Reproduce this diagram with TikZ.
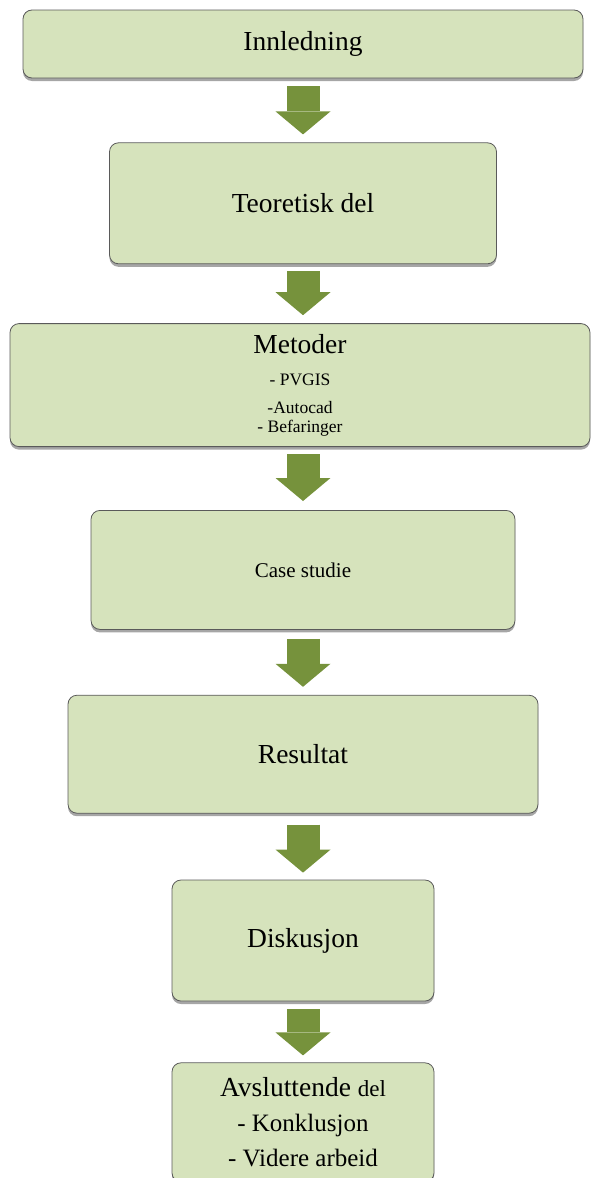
\documentclass[tikz,border=0pt]{standalone}
\usepackage{fontspec}
\setmainfont{Liberation Serif}
\usetikzlibrary{arrows.meta, positioning, shadows}

\definecolor{boksgronn}{HTML}{D6E3BC}
\definecolor{pilgronn}{HTML}{76923C}
\definecolor{kant}{HTML}{5A5A5A}

\begin{document}
\begin{tikzpicture}[
  node distance=62pt,
  every node/.style={font=\fontsize{27.5}{33}\selectfont},
  kapittel/.style={
    rectangle, draw=kant, line width=0.8pt, fill=boksgronn,
    rounded corners=9pt, align=center, inner sep=0pt,
    drop shadow={shadow xshift=0pt, shadow yshift=-3pt, opacity=0.35, fill=black}
  },
  pil/.style={
    draw=pilgronn, line width=33pt,
    -{Triangle[length=23pt, width=55pt, line width=0pt]}
  },
  liten/.style={font=\fontsize{17.5}{20}\selectfont}
]

\useasboundingbox (0,0) rectangle (590pt,-1178pt);

\node[kapittel, minimum width=560pt, minimum height=68pt] (inn) at (303pt,-44pt) {Innledning};
\node[kapittel, minimum width=387pt, minimum height=121pt] (teo) [below=64pt of inn] {Teoretisk del};
\node[kapittel, minimum width=580pt, minimum height=123pt, liten] (met) [below=59pt of teo, xshift=-3pt]
  {{\fontsize{27.5}{33}\selectfont Metoder}\\[12pt] - PVGIS\\[8pt] -Autocad\\[-1pt] - Befaringer};
\node[kapittel, minimum width=424pt, minimum height=119pt] (cas) [below=63pt of met.south -| teo.south]
  {\fontsize{21}{25}\selectfont Case studie};
\node[kapittel, minimum width=470pt, minimum height=118pt] (res) [below=65pt of cas] {Resultat};
\node[kapittel, minimum width=262pt, minimum height=121pt] (dis) [below=66pt of res] {Diskusjon};
\node[kapittel, minimum width=262pt, minimum height=119pt] (avs) [below=61pt of dis]
  {Avsluttende {\fontsize{23}{25}\selectfont del}\\[2pt]
   {\fontsize{25}{30}\selectfont - Konklusjon}\\[2pt]
   {\fontsize{25}{30}\selectfont - Videre arbeid}};

\draw[pil] ([yshift=-8pt]inn.south) -- ([yshift=8pt]teo.north);
\draw[pil] ([yshift=-7pt]teo.south) -- ([yshift=8pt]met.north -| teo.south);
\draw[pil] ([yshift=-7pt]met.south -| cas.north) -- ([yshift=9pt]cas.north);
\draw[pil] ([yshift=-9pt]cas.south) -- ([yshift=8pt]res.north);
\draw[pil] ([yshift=-11pt]res.south) -- ([yshift=7pt]dis.north);
\draw[pil] ([yshift=-8pt]dis.south) -- ([yshift=7pt]avs.north);

\end{tikzpicture}
\end{document}
